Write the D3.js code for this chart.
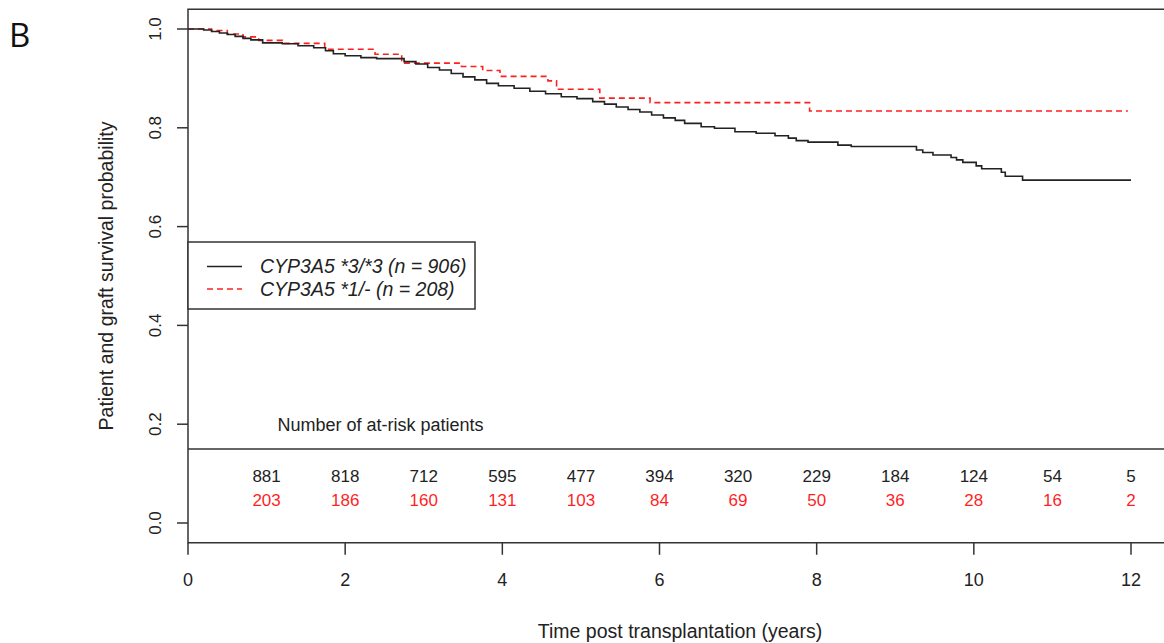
<!DOCTYPE html>
<html>
<head>
<meta charset="utf-8">
<script src="https://cdn.jsdelivr.net/npm/d3@7"></script>
<style>
  body { margin: 0; background: #fff; }
  svg { display: block; font-family: "Liberation Sans", Arial, sans-serif; }
  .tick-label { font-size: 18px; fill: #222; }
  .axis-title { font-size: 19.5px; fill: #222; }
  .risk { font-size: 17px; }
  .legend-text { font-size: 19.5px; font-style: italic; fill: #222; }
</style>
</head>
<body>
<svg id="km" width="1164" height="643"></svg>
<script>
// Kaplan-Meier steps: [time (years), survival]
const cyp33 = [
  [0, 1.0], [0.2, 0.998], [0.3, 0.995], [0.4, 0.992], [0.5, 0.989], [0.6, 0.985],
  [0.7, 0.981], [0.8, 0.978], [0.95, 0.972], [1.2, 0.970], [1.4, 0.966], [1.6, 0.962],
  [1.75, 0.956], [1.85, 0.950], [2.0, 0.946], [2.2, 0.942], [2.4, 0.940], [2.75, 0.934],
  [2.9, 0.929], [3.05, 0.922], [3.2, 0.917], [3.35, 0.910], [3.5, 0.903], [3.65, 0.897],
  [3.8, 0.890], [3.95, 0.885], [4.15, 0.880], [4.35, 0.874], [4.55, 0.869], [4.75, 0.863],
  [4.95, 0.859], [5.15, 0.853], [5.3, 0.848], [5.45, 0.842], [5.6, 0.837], [5.75, 0.832],
  [5.9, 0.826], [6.05, 0.820], [6.2, 0.815], [6.32, 0.809], [6.53, 0.802], [6.7, 0.799],
  [6.96, 0.792], [7.23, 0.789], [7.47, 0.784], [7.64, 0.779], [7.74, 0.774], [7.89, 0.771],
  [8.27, 0.765], [8.44, 0.762], [9.27, 0.755], [9.35, 0.750], [9.48, 0.745], [9.71, 0.740],
  [9.78, 0.735], [9.86, 0.730], [10.03, 0.723], [10.1, 0.717], [10.35, 0.710], [10.4, 0.702],
  [10.62, 0.694], [12.0, 0.694]
];
const cyp1 = [
  [0, 1.0], [0.3, 0.997], [0.5, 0.990], [0.7, 0.984], [0.9, 0.977], [1.2, 0.971],
  [1.74, 0.959], [2.38, 0.949], [2.72, 0.931], [3.48, 0.924], [3.75, 0.916], [3.97, 0.904],
  [4.58, 0.895], [4.69, 0.878], [5.24, 0.860], [5.88, 0.851], [7.91, 0.834], [11.96, 0.834]
];

const riskYears = [1, 2, 3, 4, 5, 6, 7, 8, 9, 10, 11, 12];
const risk33 = [881, 818, 712, 595, 477, 394, 320, 229, 184, 124, 54, 5];
const risk1 = [203, 186, 160, 131, 103, 84, 69, 50, 36, 28, 16, 2];

const xTicks = [0, 2, 4, 6, 8, 10, 12];
const yTicks = [0.0, 0.2, 0.4, 0.6, 0.8, 1.0];

const labels33 = 'CYP3A5 *3/*3 (n = 906)';
const labels1 = 'CYP3A5 *1/- (n = 208)';

const svg = d3.select('#km');

const x = d3.scaleLinear().domain([0, 12]).range([188, 1131]);
const y = d3.scaleLinear().domain([0, 1]).range([523, 29]);

const ink = '#222';
const red = '#ff1f1f';

// plot box (runs off the right edge like the original)
svg.append('rect')
    .attr('x', x(0))
    .attr('y', y(1.04))
    .attr('width', x(12.5) - x(0))
    .attr('height', y(-0.04) - y(1.04))
    .attr('fill', 'none')
    .attr('stroke', '#333')
    .attr('stroke-width', 1.5);

// y axis ticks
const yAxisG = svg.append('g');
yAxisG.selectAll('line').data(yTicks)
    .enter().append('line')
        .attr('x1', x(0) - 11).attr('x2', x(0))
        .attr('y1', d => y(d)).attr('y2', d => y(d))
        .attr('stroke', '#333').attr('stroke-width', 1.5);
yAxisG.selectAll('text').data(yTicks)
    .enter().append('text')
        .attr('class', 'tick-label')
        .style('font-size', '17px')
        .attr('transform', d => `translate(${x(0) - 33},${y(d)}) rotate(-90)`)
        .attr('text-anchor', 'middle')
        .attr('dy', '0.35em')
        .text(d => d.toFixed(1));

// x axis ticks
const xAxisG = svg.append('g');
xAxisG.selectAll('line').data(xTicks)
    .enter().append('line')
        .attr('x1', d => x(d)).attr('x2', d => x(d))
        .attr('y1', y(-0.04)).attr('y2', y(-0.04) + 12)
        .attr('stroke', '#333').attr('stroke-width', 1.5);
xAxisG.selectAll('text').data(xTicks)
    .enter().append('text')
        .attr('class', 'tick-label')
        .attr('x', d => x(d))
        .attr('y', y(-0.04) + 43)
        .attr('text-anchor', 'middle')
        .text(d => d);

// axis titles
svg.append('text')
    .attr('class', 'axis-title')
    .attr('transform', `translate(106,276) rotate(-90)`)
    .attr('text-anchor', 'middle')
    .attr('dy', '0.35em')
    .text('Patient and graft survival probability');

svg.append('text')
    .attr('class', 'axis-title')
    .attr('x', 680)
    .attr('y', 638)
    .attr('text-anchor', 'middle')
    .text('Time post transplantation (years)');

svg.append('text')
    .attr('x', 9)
    .attr('y', 47)
    .attr('font-family', '"Open Sans", sans-serif')
    .attr('font-size', 33)
    .attr('fill', '#111')
    .text('B');

// at-risk table
svg.append('line')
    .attr('x1', x(0)).attr('x2', x(12.5))
    .attr('y1', y(0.15)).attr('y2', y(0.15))
    .attr('stroke', '#333').attr('stroke-width', 1.5);

svg.append('text')
    .attr('x', x(2.45))
    .attr('y', y(0.2) + 7)
    .attr('text-anchor', 'middle')
    .attr('font-size', 18)
    .attr('fill', ink)
    .text('Number of at-risk patients');

svg.append('g').selectAll('text').data(riskYears)
    .enter().append('text')
        .attr('class', 'risk')
        .attr('x', d => x(d))
        .attr('y', y(0.1) + 8)
        .attr('text-anchor', 'middle')
        .attr('fill', ink)
        .text((d, i) => risk33[i]);

svg.append('g').selectAll('text').data(riskYears)
    .enter().append('text')
        .attr('class', 'risk')
        .attr('x', d => x(d))
        .attr('y', y(0.05) + 8)
        .attr('text-anchor', 'middle')
        .attr('fill', red)
        .text((d, i) => risk1[i]);

// survival curves
const line = d3.line()
    .x(d => x(d[0]))
    .y(d => y(d[1]))
    .curve(d3.curveStepAfter);

svg.append('path')
    .datum(cyp1)
    .attr('d', line)
    .attr('fill', 'none')
    .attr('stroke', red)
    .attr('stroke-width', 1.6)
    .attr('stroke-dasharray', '6,4');

svg.append('path')
    .datum(cyp33)
    .attr('d', line)
    .attr('fill', 'none')
    .attr('stroke', ink)
    .attr('stroke-width', 1.6);

// legend
const legend = svg.append('g');
legend.append('rect')
    .attr('x', x(0))
    .attr('y', 242)
    .attr('width', 287)
    .attr('height', 67)
    .attr('fill', '#fff')
    .attr('stroke', '#333')
    .attr('stroke-width', 1.5);

const legendRows = [
    {label: labels33, color: ink, dash: null, yy: 266.5},
    {label: labels1, color: red, dash: '6,4', yy: 289}
];
legendRows.forEach(r => {
    legend.append('line')
        .attr('x1', 207).attr('x2', 242)
        .attr('y1', r.yy).attr('y2', r.yy)
        .attr('stroke', r.color)
        .attr('stroke-width', 1.6)
        .attr('stroke-dasharray', r.dash);
    legend.append('text')
        .attr('class', 'legend-text')
        .attr('x', 260)
        .attr('y', r.yy)
        .attr('dy', '0.35em')
        .text(r.label);
});
</script>
</body>
</html>
